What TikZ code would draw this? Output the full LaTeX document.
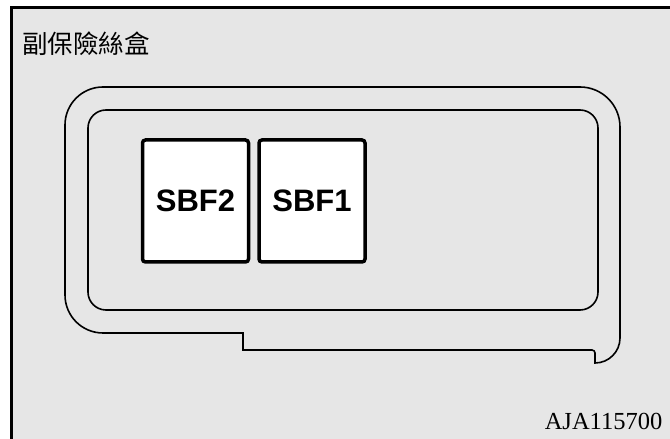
\documentclass[tikz,border=0pt]{standalone}
\usepackage{fontspec}
\newfontfamily\cjkfont{Noto Sans CJK TC}
\newfontfamily\sansfont{Liberation Sans}
\newfontfamily\seriffont{Liberation Serif}
\definecolor{bggray}{HTML}{E6E6E6}
\tikzset{
  fusebox/.style={draw=black, fill=white, line width=3.5pt, rounded corners=3pt,
    minimum width=106pt, minimum height=122pt, inner sep=0pt,
    font=\sansfont\bfseries\fontsize{31}{31}\selectfont},
  contour/.style={draw=black, line width=1.6pt},
}
\begin{document}
\begin{tikzpicture}[x=1pt,y=1pt]
\useasboundingbox (0,0) rectangle (670,439);
% frame
\fill[bggray] (11,-2) rectangle (672,431);
\draw[line width=3pt] (11,-2) -- (11,431) -- (672,431);
% title
\node[anchor=base west, inner sep=0pt, font=\cjkfont\fontsize{25.5}{25.5}\selectfont] (title) at (22,385) {副保險絲盒};
% outer contour
\draw[contour] (103,352) -- (580,352) arc(90:0:40) -- (620,101) arc(0:-90:25)
  -- (595,86) arc(0:90:3) -- (243,89) -- (243,106) -- (103,106) arc(270:180:38)
  -- (65,314) arc(180:90:38) -- cycle;
% inner contour
\draw[contour, rounded corners=18pt] (88,329) rectangle (598,129);
% fuses
\node[fusebox] (sbf2) at (195.5,238) {SBF2};
\node[fusebox] (sbf1) at (312,238) {SBF1};
% code
\node[anchor=base east, inner sep=0pt, font=\seriffont\fontsize{24.5}{24.5}\selectfont] (code) at (662.5,9) {AJA115700};
\end{tikzpicture}
\end{document}
